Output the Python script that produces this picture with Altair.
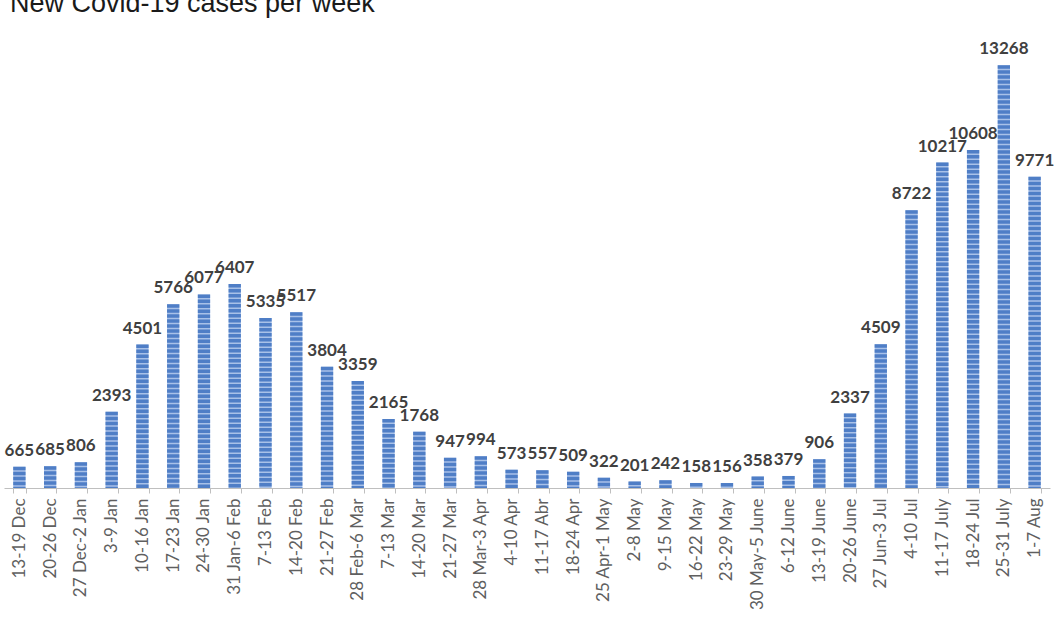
import altair as alt
import pandas as pd

weeks = [
    "13-19 Dec", "20-26 Dec", "27 Dec-2 Jan", "3-9 Jan", "10-16 Jan", "17-23 Jan",
    "24-30 Jan", "31 Jan-6 Feb", "7-13 Feb", "14-20 Feb", "21-27 Feb", "28 Feb-6 Mar",
    "7-13 Mar", "14-20 Mar", "21-27 Mar", "28 Mar-3 Apr", "4-10 Apr", "11-17 Abr",
    "18-24 Apr", "25 Apr-1 May", "2-8 May", "9-15 May", "16-22 May", "23-29 May",
    "30 May-5 June", "6-12 June", "13-19 June", "20-26 June", "27 Jun-3 Jul",
    "4-10 Jul", "11-17 July", "18-24 Jul", "25-31 July", "1-7 Aug",
]
cases = [
    665, 685, 806, 2393, 4501, 5766,
    6077, 6407, 5335, 5517, 3804, 3359,
    2165, 1768, 947, 994, 573, 557,
    509, 322, 201, 242, 158, 156,
    358, 379, 906, 2337, 4509,
    8722, 10217, 10608, 13268, 9771,
]
title_text = "New Covid-19 cases per week"

df = pd.DataFrame({"week": weeks, "cases": cases})

x_enc = alt.X(
    "week:N",
    sort=weeks,
    scale=alt.Scale(paddingInner=0.6, paddingOuter=0.3),
    axis=alt.Axis(
        title=None,
        labelAngle=-90,
        labelFont="Lato",
        labelFontSize=17,
        labelColor="#5f5f5f",
        labelPadding=5,
        labelOverlap=False,
        labelLimit=300,
        domainColor="#bfbfbf",
        tickColor="#bfbfbf",
        tickSize=5,
        tickBand="extent",
        grid=False,
    ),
)
y_enc = alt.Y("cases:Q", scale=alt.Scale(domain=[0, 14000]), axis=None)

base = alt.Chart(df).encode(x=x_enc)

bars = base.mark_bar(color="#a8c1e8").encode(y=y_enc)
stripes = base.mark_rule(
    color="#4f7ec6", strokeWidth=12.3, strokeDash=[3.5, 1.5], strokeCap="butt"
).encode(y=y_enc, y2=alt.datum(0))
labels = base.mark_text(
    font="Lato", fontSize=17, fontWeight="bold", color="#404040",
    baseline="alphabetic", dy=-11,
).encode(y=y_enc, text="cases:Q")

title = alt.Chart(pd.DataFrame({"t": [title_text]})).mark_text(
    font="Liberation Sans", fontSize=27, color="#1a1a1a",
    align="left", baseline="alphabetic",
).encode(text="t:N", x=alt.value(6), y=alt.value(-30))

chart = (
    alt.layer(bars, stripes, labels, title)
    .properties(
        width=1046,
        height=446,
        autosize=alt.AutoSizeParams(type="none"),
        padding={"left": 4, "top": 42, "right": 14, "bottom": 144},
        background="white",
    )
    .configure_view(stroke=None)
)

chart.save("out.html", embed_options={"renderer": "svg", "actions": False})
